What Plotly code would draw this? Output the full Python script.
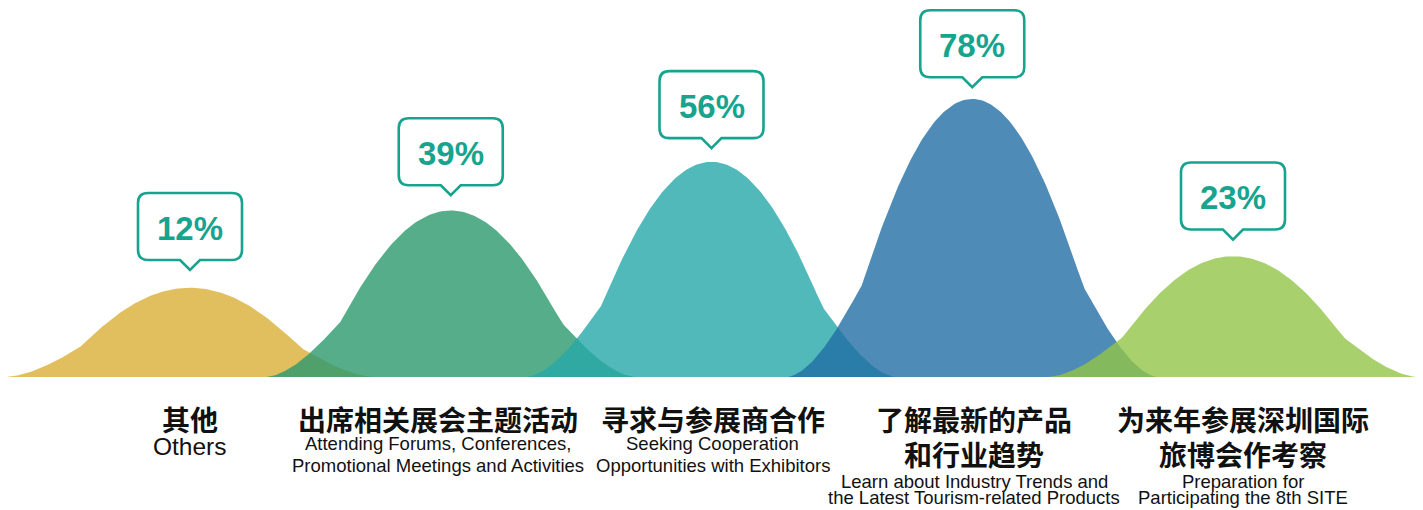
import numpy as np
import plotly.graph_objects as go

# ---------------- data ----------------
categories_cn = [
    ["其他"],
    ["出席相关展会主题活动"],
    ["寻求与参展商合作"],
    ["了解最新的产品", "和行业趋势"],
    ["为来年参展深圳国际", "旅博会作考察"],
]
categories_en = [
    ["Others"],
    ["Attending Forums, Conferences,", "Promotional Meetings and Activities"],
    ["Seeking Cooperation", "Opportunities with Exhibitors"],
    ["Learn about Industry Trends and", "the Latest Tourism-related Products"],
    ["Preparation for", "Participating the 8th SITE"],
]
values = [12, 39, 56, 78, 23]
value_labels = ["12%", "39%", "56%", "78%", "23%"]

# ---------------- styles ----------------
colors = [
    "rgba(218,175,54,0.8)",
    "rgba(43,153,109,0.8)",
    "rgba(39,168,169,0.8)",
    "rgba(34,110,165,0.8)",
    "rgba(146,196,71,0.8)",
]
TEAL = "#17a48f"
BASE = -19.2          # baseline level of the mountains on the value axis
HALF_W = 0.706        # half width of a mountain, in category units
label_xshift = [0, -13, 1, 2, 10]

# page body has an 8px margin: the figure is drawn from (8, 8)
OFF = 8
W, H = 1423 - OFF, 510 - OFF


def bez(p0, p1, p2, p3, n=60):
    u = np.linspace(0, 1, n)[:, None]
    p0, p1, p2, p3 = map(np.array, (p0, p1, p2, p3))
    pts = (1 - u) ** 3 * p0 + 3 * (1 - u) ** 2 * u * p1 + 3 * (1 - u) * u ** 2 * p2 + u ** 3 * p3
    return pts[:, 0], pts[:, 1]


# normalized right half of a mountain profile (t in [0,1], g in [0,1])
t1, g1 = bez((0, 1), (0.25, 1), (0.45, 0.63), (0.6, 0.33))
t2, g2 = bez((0.6, 0.33), (0.7, 0.212), (0.85, 0.02), (1, 0))
t_half = np.concatenate([t1, t2[1:]])
g_half = np.concatenate([g1, g2[1:]])
t_full = np.concatenate([-t_half[::-1], t_half[1:]])
g_full = np.concatenate([g_half[::-1], g_half[1:]])

fig = go.Figure()
for i, v in enumerate(values):
    xs = i + t_full * HALF_W
    ys = BASE + (v - BASE) * g_full
    fig.add_trace(go.Scatter(
        x=xs, y=ys, mode="lines", fill="toself",
        fillcolor=colors[i], line=dict(width=0, color=colors[i]),
        hoverinfo="skip", showlegend=False,
    ))

# callout boxes (pixel-sized paths anchored to each peak)
W2, BH, R, PH, PW = 52, 67, 10, 10, 10


def callout_path(tip):
    bot = tip + PH
    top = bot + BH
    return (
        f"M {-PW},{bot} L 0,{tip} L {PW},{bot} L {W2-R},{bot} Q {W2},{bot} {W2},{bot+R} "
        f"L {W2},{top-R} Q {W2},{top} {W2-R},{top} L {-W2+R},{top} Q {-W2},{top} {-W2},{top-R} "
        f"L {-W2},{bot+R} Q {-W2},{bot} {-W2+R},{bot} Z"
    ), (bot + top) / 2


shapes = []
annotations = []
for i, v in enumerate(values):
    tip = 18.8 - 0.091 * v          # gap between peak and pointer tip (px)
    path, mid = callout_path(tip)
    shapes.append(dict(
        type="path", xref="x", yref="y", xsizemode="pixel", ysizemode="pixel",
        xanchor=i, yanchor=v, path=path,
        line=dict(color=TEAL, width=2.6), fillcolor="white", layer="above",
    ))
    annotations.append(dict(
        x=i, y=v, xref="x", yref="y", text=f"<b>{value_labels[i]}</b>",
        showarrow=False, yshift=mid - 1.5, xanchor="center", yanchor="middle",
        font=dict(family="Liberation Sans", size=33, color=TEAL),
    ))


def paper_y(px):
    return 1 - (px - OFF) / H


# label line centres (in page pixels)
cn_y = [419, 454]
en_y_short = [443, 465]     # labels with a single Chinese line
en_y_tall = [481, 497.5]    # labels with two Chinese lines

for i in range(len(values)):
    for k, line in enumerate(categories_cn[i]):
        annotations.append(dict(
            x=i, y=paper_y(cn_y[k]), xref="x", yref="paper", text=f"<b>{line}</b>",
            showarrow=False, xanchor="center", yanchor="middle", xshift=label_xshift[i],
            font=dict(family="Noto Sans CJK SC", size=28, color="#111111"),
        ))
    ys = en_y_short if len(categories_cn[i]) == 1 else en_y_tall
    single = len(categories_en[i]) == 1
    for k, line in enumerate(categories_en[i]):
        yy = 446 if single else ys[k]
        annotations.append(dict(
            x=i, y=paper_y(yy), xref="x", yref="paper", text=line,
            showarrow=False, xanchor="center", yanchor="middle", xshift=label_xshift[i],
            font=dict(family="Liberation Sans", size=24.5 if single else 18.5, color="#111111"),
        ))

# x: category centre 0 at page pixel 190, spacing 260.75 px
x0 = -(190 - OFF) / 260.75
x1 = (1423 - 190) / 260.75
# y: baseline (BASE) at page pixel 377, 2.861 px per unit
K = 2.861
y_top = BASE + (377 - OFF) / K
y_bot = BASE - (510 - 377) / K
fig.update_layout(
    width=W, height=H,
    margin=dict(l=0, r=0, t=0, b=0),
    paper_bgcolor="white", plot_bgcolor="white",
    xaxis=dict(range=[x0, x1], visible=False, fixedrange=True),
    yaxis=dict(range=[y_bot, y_top], visible=False, fixedrange=True),
    shapes=shapes, annotations=annotations, showlegend=False,
)
fig.write_html("out.html", config={"displayModeBar": False})
